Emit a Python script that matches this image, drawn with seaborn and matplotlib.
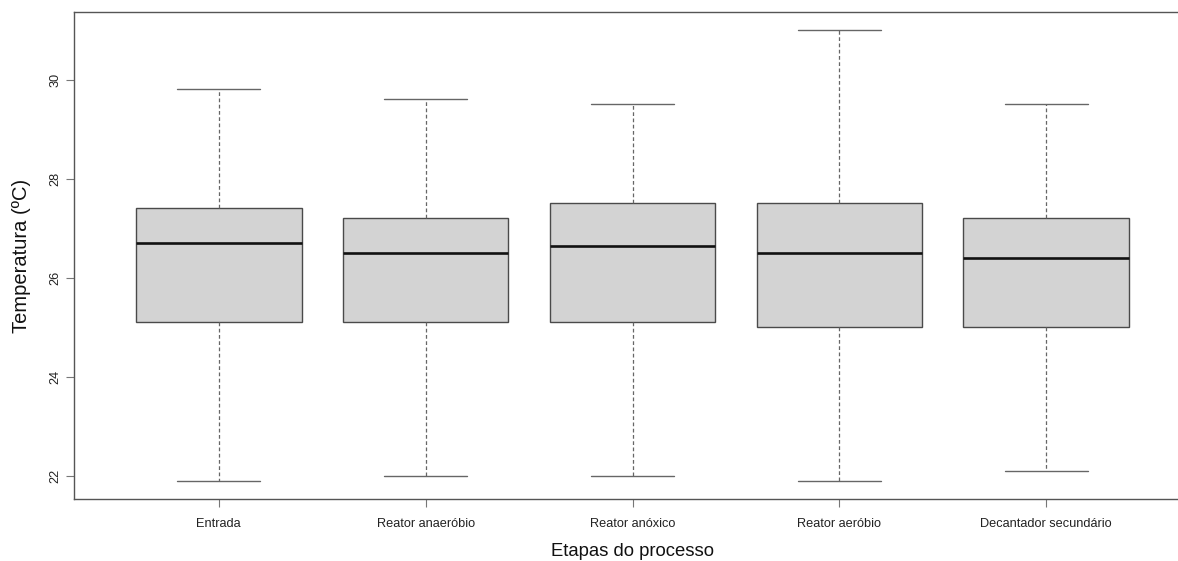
import numpy as np
import pandas as pd
import matplotlib
matplotlib.use("Agg")
import matplotlib.pyplot as plt
import seaborn as sns

# Summary statistics of temperature (ºC) at each treatment stage
categories = ["Entrada", "Reator anaeróbio", "Reator anóxico", "Reator aeróbio", "Decantador secundário"]
mins = [21.9, 22.0, 22.0, 21.9, 22.1]
q1 = [25.1, 25.1, 25.1, 25.0, 25.0]
medians = [26.7, 26.5, 26.65, 26.5, 26.4]
q3 = [27.4, 27.2, 27.5, 27.5, 27.2]
maxs = [29.8, 29.6, 29.5, 31.0, 29.5]

# Five-number summaries in long form: with five points the quartiles land exactly on q1/q3
rows = []
for i, cat in enumerate(categories):
    for v in (mins[i], q1[i], medians[i], q3[i], maxs[i]):
        rows.append({"Etapa": cat, "Temperatura": v})
df = pd.DataFrame(rows)

sns.set_theme(style="white")
plt.rcParams["font.family"] = ["Liberation Sans", "DejaVu Sans"]

fig = plt.figure(figsize=(11.78, 5.61), dpi=100)
ax = fig.add_axes([74 / 1178, 62 / 561, (1191 - 74) / 1178, (499 - 12) / 561])

edge = "#4a4a4a"
sns.boxplot(
    data=df, x="Etapa", y="Temperatura", order=categories,
    whis=(0, 100), width=0.8, color="#d3d3d3", saturation=1,
    linecolor=edge, linewidth=1.0, fliersize=0,
    whiskerprops=dict(linestyle=(0, (3, 2)), linewidth=0.9, color="#666666"),
    capprops=dict(linewidth=1.0, color="#666666"),
    medianprops=dict(linewidth=1.9, color="#111111"),
    boxprops=dict(edgecolor=edge, linewidth=1.0),
    ax=ax,
)

lo, hi = min(mins), max(maxs)
pad = 0.04 * (hi - lo)
ax.set_ylim(lo - pad, hi + pad)
ax.set_xlim(-0.7, len(categories) - 0.3)
ax.set_yticks([22, 24, 26, 28, 30])
ax.set_yticklabels(["22", "24", "26", "28", "30"], rotation=90, va="center")

for s in ax.spines.values():
    s.set_visible(True)
    s.set_color("#555555")
    s.set_linewidth(1.0)

ax.tick_params(axis="both", bottom=True, left=True, direction="out", length=6, width=0.8,
               color="#777777", labelsize=9.2, labelcolor="#222222", pad=8)
ax.tick_params(axis="y", pad=3)
ax.set_xlabel("Etapas do processo", fontsize=13.3, labelpad=9, color="#111111")
ax.set_ylabel("Temperatura (ºC)", fontsize=14.5, labelpad=13, color="#111111")
ax.grid(False)

fig.savefig("out.png", dpi=100)
